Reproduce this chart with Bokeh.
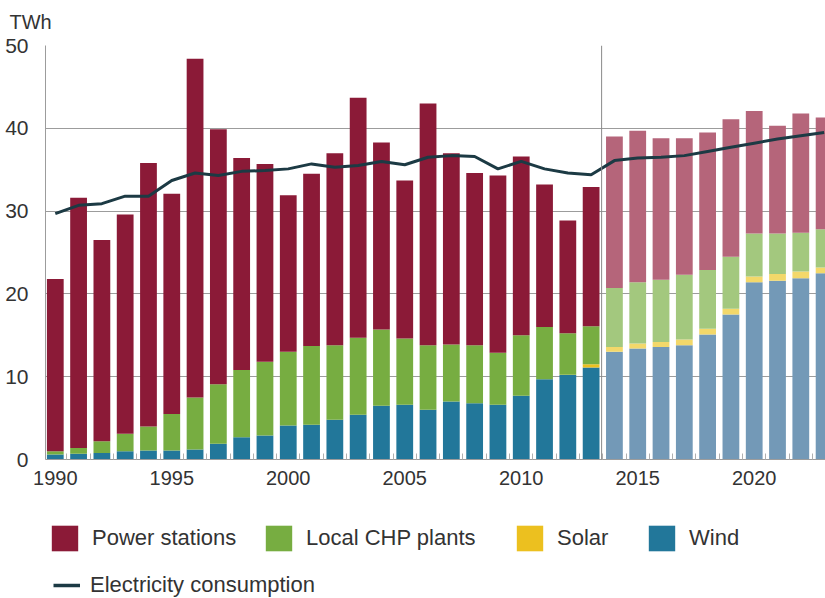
from bokeh.plotting import figure
from bokeh.layouts import column
from bokeh.models import ColumnDataSource, FixedTicker, Span, Legend, LegendItem, Range1d
from bokeh.embed import file_html
from bokeh.resources import INLINE

# ---------------- data (TWh) ----------------
years = list(range(1990, 2024))
wind = [0.6, 0.7, 0.8, 1.0, 1.1, 1.1, 1.2, 1.9, 2.7, 2.9,
        4.1, 4.2, 4.8, 5.4, 6.5, 6.6, 6.0, 7.0, 6.8, 6.6,
        7.7, 9.7, 10.2, 11.1,
        13.0, 13.4, 13.6, 13.8, 15.1, 17.5, 21.4, 21.6, 21.9, 22.5]
solar = [0.0, 0.0, 0.0, 0.0, 0.0, 0.0, 0.0, 0.0, 0.0, 0.0,
         0.0, 0.0, 0.0, 0.0, 0.0, 0.0, 0.0, 0.0, 0.0, 0.0,
         0.0, 0.0, 0.05, 0.4,
         0.6, 0.6, 0.6, 0.7, 0.7, 0.7, 0.7, 0.8, 0.8, 0.7]
chp = [0.4, 0.7, 1.4, 2.1, 2.9, 4.4, 6.3, 7.2, 8.1, 8.9,
       8.9, 9.5, 9.0, 9.3, 9.2, 8.0, 7.8, 6.9, 7.0, 6.3,
       7.3, 6.3, 5.0, 4.6,
       7.1, 7.4, 7.5, 7.8, 7.1, 6.3, 5.2, 4.9, 4.7, 4.6]
power = [20.8, 30.2, 24.3, 26.5, 31.8, 26.6, 40.9, 30.8, 25.6, 23.9,
         18.9, 20.8, 23.2, 29.0, 22.6, 19.1, 29.2, 23.1, 20.8, 21.4,
         21.6, 17.2, 13.6, 16.8,
         18.3, 18.3, 17.1, 16.5, 16.6, 16.6, 14.8, 13.0, 14.4, 13.5]
consumption = [29.7, 30.7, 30.9, 31.8, 31.8, 33.7, 34.6, 34.3, 34.8, 34.9,
               35.1, 35.7, 35.3, 35.5, 36.0, 35.6, 36.5, 36.7, 36.6, 35.1,
               36.0, 35.1, 34.6, 34.4,
               36.1, 36.4, 36.5, 36.7, 37.2, 37.7, 38.2, 38.7, 39.1, 39.5]
last_historical_year = 2013
y_ticks = [0, 10, 20, 30, 40, 50]
x_tick_years = [1990, 1995, 2000, 2005, 2010, 2015, 2020]
series_names = ["Power stations", "Local CHP plants", "Solar", "Wind"]
line_name = "Electricity consumption"
unit_label = "TWh"

# ---------------- styling ----------------
FONT = "Liberation Sans"
TXT = "#333333"
GRID = "#9c9c9c"
hist_colors = ["#22779a", "#ecc01f", "#77ad41", "#8b1a37"]   # wind, solar, chp, power
proj_colors = ["#7399b7", "#f3d86a", "#a3c87e", "#b5657a"]
line_color = "#1c3a44"

stackers = ["wind", "solar", "chp", "power"]


def subset(pred):
    idx = [i for i, y in enumerate(years) if pred(y)]
    return ColumnDataSource(dict(
        year=[years[i] for i in idx],
        wind=[wind[i] for i in idx],
        solar=[solar[i] for i in idx],
        chp=[chp[i] for i in idx],
        power=[power[i] for i in idx],
    ))


hist_src = subset(lambda y: y <= last_historical_year)
proj_src = subset(lambda y: y > last_historical_year)

# ---------------- main chart ----------------
p = figure(width=825, height=495,
           x_range=Range1d(1989.58, 2023.06), y_range=Range1d(0, 50),
           output_backend="svg", toolbar_location=None,
           min_border_left=45, min_border_top=45,
           min_border_bottom=36, min_border_right=0,
           title=unit_label)
p.outline_line_color = None
p.background_fill_color = "white"
p.border_fill_color = "white"

p.title.align = "left"
p.title.vertical_align = "top"
p.title.offset = -36
p.title.text_font = FONT
p.title.text_font_size = "20px"
p.title.text_font_style = "normal"
p.title.text_color = TXT
p.title.standoff = 21

p.xgrid.visible = False
p.ygrid.ticker = FixedTicker(ticks=y_ticks)
p.ygrid.grid_line_color = GRID
p.ygrid.grid_line_width = 1

p.yaxis.ticker = FixedTicker(ticks=y_ticks)
p.yaxis.axis_line_color = GRID
p.yaxis.major_tick_line_color = None
p.yaxis.minor_tick_line_color = None
p.yaxis.major_label_text_font = FONT
p.yaxis.major_label_text_font_size = "21px"
p.yaxis.major_label_text_color = TXT
p.yaxis.major_label_standoff = 11

p.xaxis.ticker = FixedTicker(ticks=x_tick_years, minor_ticks=[y + 0.5 for y in years])
p.xaxis.axis_line_color = GRID
p.xaxis.major_tick_line_color = None
p.xaxis.minor_tick_line_color = "#b0b0b0"
p.xaxis.minor_tick_in = 6
p.xaxis.minor_tick_out = 0
p.xaxis.major_label_text_font = FONT
p.xaxis.major_label_text_font_size = "20px"
p.xaxis.major_label_text_color = TXT
p.xaxis.major_label_standoff = 5

p.add_layout(Span(location=last_historical_year + 0.45, dimension="height",
                  line_color="#8a8a8a", line_width=1))

hist_r = p.vbar_stack(stackers, x="year", width=0.72, source=hist_src,
                      fill_color=hist_colors, line_color=None)
proj_r = p.vbar_stack(stackers, x="year", width=0.72, source=proj_src,
                      fill_color=proj_colors, line_color=None)

line_r = p.line(years, consumption, line_color=line_color, line_width=3)

# ---------------- legend strip (frame is aligned with the chart frame) ----------------
lg = figure(width=825, height=103, x_range=Range1d(0, 1), y_range=Range1d(0, 1),
            output_backend="svg", toolbar_location=None,
            min_border_left=0, min_border_right=0, min_border_top=0, min_border_bottom=0)
lg.axis.visible = False
lg.grid.visible = False
lg.outline_line_color = None

# key renderers: same data, outside this strip's ranges, used only for legend keys
stack_field = {"Power stations": "power", "Local CHP plants": "chp", "Solar": "solar", "Wind": "wind"}
key_colors = {"Power stations": hist_colors[3], "Local CHP plants": hist_colors[2],
              "Solar": hist_colors[1], "Wind": hist_colors[0]}
common = dict(orientation="horizontal", label_text_font=FONT, label_text_font_size="22px",
              label_text_color=TXT, padding=0, margin=0, border_line_color=None,
              background_fill_alpha=0)

leg_x = [3, 217, 468, 600]
for name, lx in zip(series_names, leg_x):
    key = lg.vbar(x="year", top=stack_field[name], width=0.72, source=hist_src,
                  fill_color=key_colors[name], line_color=None)
    lg.add_layout(Legend(items=[LegendItem(label=name, renderers=[key])],
                         location=(lx, 44), glyph_width=33, glyph_height=32,
                         label_standoff=11, **common))

key_line = lg.line(years, consumption, line_color=line_color, line_width=3.5)
lg.add_layout(Legend(items=[LegendItem(label=line_name, renderers=[key_line])],
                     location=(8, 0), glyph_width=27, glyph_height=26,
                     label_standoff=10, **common))

open("out.html", "w").write(file_html(column(p, lg), INLINE))
